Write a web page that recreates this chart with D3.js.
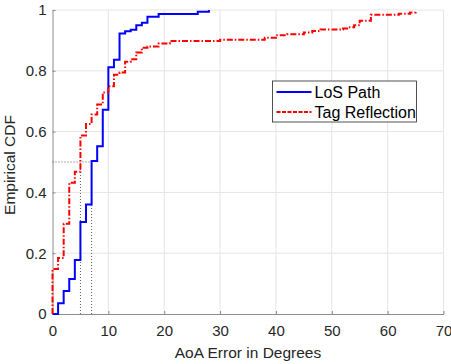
<!DOCTYPE html>
<html>
<head>
<meta charset="utf-8">
<script src="https://cdn.jsdelivr.net/npm/d3@7"></script>
<style>
  body { margin: 0; background: #fff; }
  svg { display: block; font-family: "Liberation Sans", Arial, Helvetica, sans-serif; }
</style>
</head>
<body>
<div id="chart"></div>
<script>
// step points of each empirical CDF (x in degrees, F(x))
let losX = [0, 1, 2, 3, 4, 5, 6, 7, 8, 9, 10, 11, 12, 13, 14, 15, 16, 17, 19, 26, 28];
let losY = [0, 0.035, 0.076, 0.115, 0.178, 0.303, 0.36, 0.503, 0.552, 0.672, 0.812, 0.836, 0.923, 0.93, 0.935, 0.95, 0.958, 0.978, 0.987, 0.994, 1.0];

let tagX = [0, 0, 1, 2, 3, 4, 5, 6, 7, 8, 9, 10, 11, 12, 13, 14, 15, 16, 17, 19, 21, 30, 38, 40, 42, 45, 46.5, 48, 52, 53, 54, 55, 57, 62, 64, 65];
let tagY = [0, 0.148, 0.184, 0.297, 0.432, 0.468, 0.587, 0.625, 0.656, 0.689, 0.729, 0.749, 0.787, 0.794, 0.830, 0.838, 0.860, 0.876, 0.880, 0.890, 0.898, 0.902, 0.909, 0.917, 0.920, 0.926, 0.931, 0.936, 0.939, 0.943, 0.950, 0.965, 0.984, 0.988, 0.992, 1.0];

let seriesNames = ['LoS Path', 'Tag Reflection'];
let medianX = [5, 7];
let medianLevel = 0.5;

let xTicks = [0, 10, 20, 30, 40, 50, 60, 70];
let yTicks = [0, 0.2, 0.4, 0.6, 0.8, 1];

let dim = { width: 451, height: 364 };
let m = { left: 52.5, right: 7.5, top: 10, bottom: 50 };

let svg = d3.select('#chart').append('svg')
    .attr('width', dim.width)
    .attr('height', dim.height);

let x = d3.scaleLinear().domain([0, 70]).range([m.left, dim.width - m.right]);
let y = d3.scaleLinear().domain([0, 1]).range([dim.height - m.bottom, m.top]);

// grid
let grid = svg.append('g').attr('stroke', '#e5e5e5').attr('stroke-width', 1);
grid.selectAll('.gx').data(xTicks.slice(1)).enter().append('line')
    .attr('x1', d => x(d)).attr('x2', d => x(d))
    .attr('y1', y(0)).attr('y2', y(1));
grid.selectAll('.gy').data(yTicks.slice(1)).enter().append('line')
    .attr('x1', x(0)).attr('x2', x(70))
    .attr('y1', d => y(d)).attr('y2', d => y(d));

// axes
let axisX = svg.append('g')
    .attr('transform', `translate(0,${y(0)})`)
    .call(d3.axisBottom(x).tickValues(xTicks).tickFormat(d3.format('d')).tickSizeInner(-3).tickSizeOuter(0).tickPadding(11));
let axisY = svg.append('g')
    .attr('transform', `translate(${x(0)},0)`)
    .call(d3.axisLeft(y).tickValues(yTicks).tickFormat(d => d === 0 || d === 1 ? d : d3.format('.1f')(d)).tickSizeInner(-3).tickSizeOuter(0).tickPadding(6));

[axisX, axisY].forEach(a => {
    a.select('.domain').attr('stroke', '#8c8c8c');
    a.selectAll('.tick line').attr('stroke', '#8c8c8c');
    a.selectAll('.tick text').attr('fill', '#262626').style('font-size', '15px');
});

// median guides
let guides = svg.append('g')
    .attr('stroke', '#333').attr('stroke-width', 0.8)
    .attr('stroke-dasharray', '1,2').attr('fill', 'none');
guides.append('line')
    .attr('x1', x(0)).attr('x2', x(d3.max(medianX)))
    .attr('y1', y(medianLevel)).attr('y2', y(medianLevel));
guides.selectAll('.v').data(medianX).enter().append('line')
    .attr('x1', d => x(d)).attr('x2', d => x(d))
    .attr('y1', y(0)).attr('y2', y(medianLevel));

let line = d3.line().x(d => x(d[0])).y(d => y(d[1])).curve(d3.curveStepAfter);

svg.append('path')
    .datum(d3.zip(losX, losY))
    .attr('d', line)
    .attr('fill', 'none').attr('stroke', '#0000ff').attr('stroke-width', 2);

svg.append('path')
    .datum(d3.zip(tagX, tagY))
    .attr('d', line)
    .attr('fill', 'none').attr('stroke', '#ff0000').attr('stroke-width', 2)
    .attr('stroke-dasharray', '6,2,1.5,2');

// legend
let lg = svg.append('g').attr('transform', 'translate(272.5,81)');
lg.append('rect')
    .attr('width', 144).attr('height', 41)
    .attr('fill', '#fff').attr('stroke', '#262626').attr('stroke-width', 0.8);
let styles = [
    { color: '#0000ff', dash: null },
    { color: '#ff0000', dash: '4,1.5' }
];
seriesNames.forEach((name, i) => {
    let yy = 11 + i * 20;
    lg.append('line')
        .attr('x1', 4).attr('x2', 39).attr('y1', yy).attr('y2', yy)
        .attr('stroke', styles[i].color).attr('stroke-width', 2)
        .attr('stroke-dasharray', styles[i].dash);
    lg.append('text')
        .attr('x', 42).attr('y', yy).attr('dy', '0.35em')
        .attr('fill', '#000').style('font-size', '16px')
        .text(name);
});

// axis labels
svg.append('text')
    .attr('x', (x(0) + x(70)) / 2).attr('y', 358)
    .attr('text-anchor', 'middle').attr('fill', '#262626').style('font-size', '15.5px')
    .text('AoA Error in Degrees');
svg.append('text')
    .attr('transform', `translate(15,${(y(0) + y(1)) / 2 + 3}) rotate(-90)`)
    .attr('text-anchor', 'middle').attr('fill', '#262626').style('font-size', '15.5px')
    .text('Empirical CDF');
</script>
</body>
</html>
